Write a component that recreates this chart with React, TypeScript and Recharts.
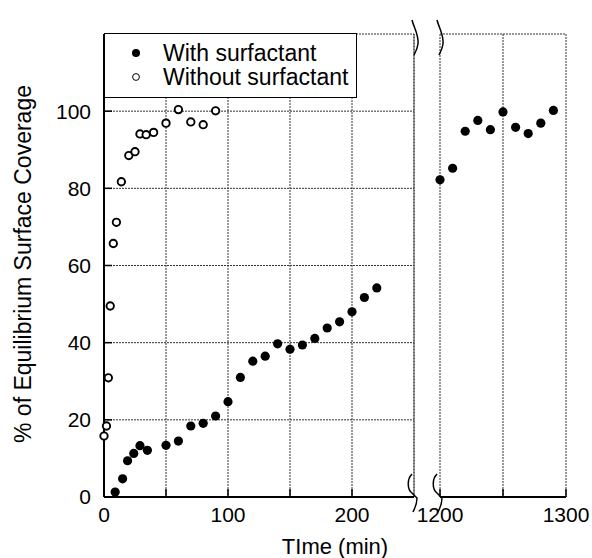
import React from "react";
import {
  ScatterChart, Scatter, XAxis, YAxis, CartesianGrid, ReferenceLine, Legend,
} from "recharts";

const FONT = '"Liberation Sans", Arial, Helvetica, sans-serif';
const INK = "#000";
const GRID = "#333";

// with surfactant, first run (min, %)
const withTimes = [9, 15, 19, 24, 29, 35, 50, 60, 70, 80, 90, 100, 110, 120, 130, 140, 150, 160, 170, 180, 190, 200, 210, 220];
const withCoverage = [1.3, 4.7, 9.4, 11.3, 13.3, 12.1, 13.4, 14.5, 18.4, 19.1, 21, 24.7, 31, 35.2, 36.5, 39.7, 38.3, 39.4, 41.1, 43.8, 45.4, 48, 51.7, 54.2];
// with surfactant, after the break
const lateTimes = [1200, 1210, 1220, 1230, 1240, 1250, 1260, 1270, 1280, 1290];
const lateCoverage = [82.2, 85.2, 94.8, 97.6, 95.2, 99.8, 95.8, 94.2, 96.9, 100.2];
// without surfactant
const withoutTimes = [0, 2, 3.5, 5, 7.5, 10, 14, 20, 25, 29, 34, 40, 50, 60, 70, 80, 90];
const withoutCoverage = [15.8, 18.4, 30.9, 49.5, 65.7, 71.2, 81.7, 88.5, 89.5, 94.1, 93.9, 94.5, 96.9, 100.4, 97.2, 96.5, 100.1];

const yTicks = [0, 20, 40, 60, 80, 100];
const leftTicks = [0, 50, 100, 150, 200];
const rightTicks = [1200, 1250, 1300];

const early = withTimes.map((t, i) => ({ t, v: withCoverage[i] }));
const late = lateTimes.map((t, i) => ({ t, v: lateCoverage[i] }));
const bare = withoutTimes.map((t, i) => ({ t, v: withoutCoverage[i] }));

const tickStyle = { fill: INK, fontSize: 21, fontFamily: FONT };
const axisLine = { stroke: INK, strokeWidth: 2 };
const tickLine = { stroke: INK, strokeWidth: 1.5 };
const hundreds = (v: number) => (v % 100 === 0 ? String(v) : "");

function Dot(props: any) {
  return <circle cx={props.cx} cy={props.cy} r={4.6} fill={INK} />;
}

function Ring(props: any) {
  return <circle cx={props.cx} cy={props.cy} r={3.7} fill="#fff" stroke={INK} strokeWidth={1.9} />;
}

function LegendBox() {
  const row = { position: "absolute" as const, left: 58, lineHeight: "24px", whiteSpace: "nowrap" as const };
  return (
    <div style={{
      width: 253, height: 65, boxSizing: "border-box", border: "1.5px solid #000",
      background: "#fff", position: "relative", fontFamily: FONT, fontSize: 23, color: INK,
    }}>
      <svg width={20} height={60} style={{ position: "absolute", left: 21, top: 0 }}>
        <circle cx={10} cy={19} r={4} fill={INK} />
        <circle cx={10} cy={43} r={3.4} fill="#fff" stroke={INK} strokeWidth={1} />
      </svg>
      <div style={{ ...row, top: 7 }}>With surfactant</div>
      <div style={{ ...row, top: 31 }}>Without surfactant</div>
    </div>
  );
}

export default function App() {
  return (
    <div style={{ position: "absolute", left: 0, top: 0, width: 592, height: 558, background: "#fff" }}>
      {/* early time panel */}
      <div style={{ position: "absolute", left: 0, top: 0 }}>
        <ScatterChart width={420} height={558} margin={{ top: 34, right: 6, bottom: 0, left: 0 }}>
          <CartesianGrid stroke={GRID} strokeDasharray="2 1" />
          <XAxis
            type="number" dataKey="t" domain={[0, 250]} ticks={leftTicks} height={61}
            tickSize={-8} tickMargin={18} tickFormatter={hundreds}
            tick={tickStyle} axisLine={axisLine} tickLine={tickLine}
          />
          <XAxis
            xAxisId="top" orientation="top" type="number" domain={[0, 250]} height={0}
            tick={false} tickLine={false} axisLine={axisLine}
          />
          <YAxis
            type="number" dataKey="v" domain={[0, 120]} ticks={yTicks} width={104}
            tickSize={-8} tickMargin={21} tick={tickStyle} axisLine={axisLine} tickLine={tickLine}
          />
          <ReferenceLine x={250} stroke={GRID} strokeDasharray="2 1" />
          <Legend
            layout="vertical" align="center" verticalAlign="middle"
            wrapperStyle={{ left: 104, top: 33, width: 253, height: 65 }}
            content={() => <LegendBox />}
          />
          <Scatter name="Without surfactant" data={bare} shape={Ring} isAnimationActive={false} />
          <Scatter name="With surfactant" data={early} shape={Dot} isAnimationActive={false} />
        </ScatterChart>
      </div>

      {/* after the break */}
      <div style={{ position: "absolute", left: 400, top: 0 }}>
        <ScatterChart width={192} height={558} margin={{ top: 34, right: 26, bottom: 0, left: 40 }}>
          <CartesianGrid stroke={GRID} strokeDasharray="2 1" />
          <XAxis
            type="number" dataKey="t" domain={[1200, 1300]} ticks={rightTicks} height={61}
            tickSize={-8} tickMargin={18} tickFormatter={hundreds}
            tick={tickStyle} axisLine={axisLine} tickLine={tickLine}
          />
          <XAxis
            xAxisId="top" orientation="top" type="number" domain={[1200, 1300]} height={0}
            tick={false} tickLine={false} axisLine={axisLine}
          />
          <YAxis
            type="number" dataKey="v" domain={[0, 120]} ticks={yTicks} width={0}
            tick={false} tickLine={false} axisLine={false}
          />
          <YAxis
            yAxisId="r" orientation="right" type="number" domain={[0, 120]} ticks={yTicks} width={0}
            tick={false} tickSize={-8} tickLine={tickLine} axisLine={axisLine}
          />
          <Scatter name="With surfactant" data={late} shape={Dot} isAnimationActive={false} />
        </ScatterChart>
      </div>

      {/* axis titles and break marks */}
      <svg width={592} height={558} style={{ position: "absolute", left: 0, top: 0, pointerEvents: "none" }}>
        <text
          x={31} y={264} textAnchor="middle" transform="rotate(-90 31 264)"
          fontFamily={FONT} fontSize={23} fill={INK}
        >
          % of Equilibrium Surface Coverage
        </text>
        <text x={335} y={554} textAnchor="middle" fontFamily={FONT} fontSize={22} fill={INK}>
          TIme (min)
        </text>
        {[414, 439].map((x) => (
          <g key={x} fill="none" stroke={INK} strokeWidth={1.5}>
            <path d={`M ${x - 2} 20 C ${x} 28, ${x + 5} 35, ${x + 4} 44 C ${x + 3} 50, ${x + 1} 53, ${x} 55`} />
            <path d={`M ${x - 2} 474 C ${x - 7} 479, ${x - 7} 489, ${x - 2} 493 L ${x + 3} 498 C ${x + 3} 503, ${x + 1} 508, ${x - 1} 512`} />
          </g>
        ))}
      </svg>
    </div>
  );
}
